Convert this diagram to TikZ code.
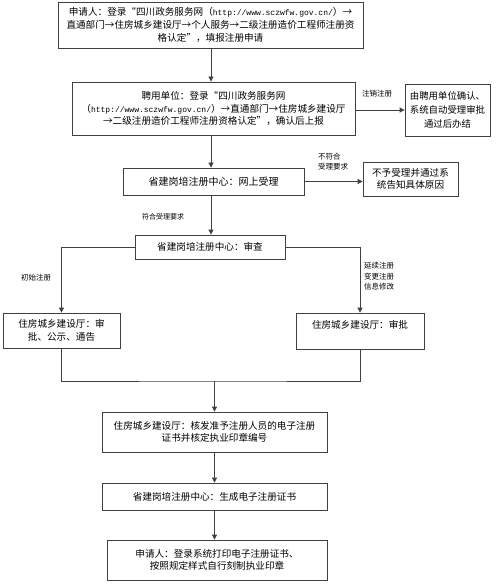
\documentclass[tikz,border=0pt]{standalone}
\usepackage{fontspec}
\setmainfont{Noto Sans CJK SC}
\newfontfamily\urlfont{Liberation Mono}
\usetikzlibrary{arrows.meta}
\newcommand\myurl[1]{{\urlfont\fontsize{8}{13}\selectfont #1}}
\begin{document}
\begin{tikzpicture}[x=1pt,y=-1pt,
  box/.style={draw=black!75, line width=0.8pt, align=center, inner sep=0pt,
    font=\fontsize{9.6}{13}\selectfont},
  lbl/.style={font=\fontsize{7.5}{10.5}\selectfont, inner sep=0pt, align=left},
  arr/.style={draw=black!75, line width=0.8pt, -{Triangle[length=5pt,width=5pt]}},
  ln/.style={draw=black!75, line width=0.8pt}]
\useasboundingbox (0,0) rectangle (500,585);
\coordinate (sp) at (211,0);
\coordinate (mrg) at (214.5,381);

\node[box, minimum width=305pt, minimum height=46pt] (b1) at (210.5,25)
  {申请人：登录“四川政务服务网（\myurl{http://www.sczwfw.gov.cn/}）→\\
   直通部门→住房城乡建设厅→个人服务→二级注册造价工程师注册资\\
   格认定”，填报注册申请};
\node[box, minimum width=283pt, minimum height=53pt, font=\fontsize{9.6}{12.5}\selectfont] (b2) at (213.5,108.5)
  {聘用单位：登录“四川政务服务网\\
   （\myurl{http://www.sczwfw.gov.cn/}）→直通部门→住房城乡建设厅\\
   →二级注册造价工程师注册资格认定”，确认后上报};
\node[box, minimum width=85pt, minimum height=52pt, font=\fontsize{9.4}{14}\selectfont] (b3) at (447.5,110)
  {由聘用单位确认、\\系统自动受理审批\\通过后办结};
\node[box, minimum width=181pt, minimum height=27pt, font=\fontsize{10}{13}\selectfont] (b4) at (213.5,181.5)
  {省建岗培注册中心：网上受理};
\node[box, minimum width=95pt, minimum height=34pt, font=\fontsize{9.6}{12}\selectfont] (b5) at (410.5,179)
  {不予受理并通过系\\统告知具体原因};
\node[box, minimum width=150pt, minimum height=24pt] (b6) at (210,247)
  {省建岗培注册中心：审查};
\node[box, minimum width=117pt, minimum height=35pt] (b7) at (61.5,330.5)
  {住房城乡建设厅：审\\批、公示、通告};
\node[box, minimum width=128pt, minimum height=36pt] (b8) at (360,331)
  {住房城乡建设厅：审批\\~};
\node[box, minimum width=225pt, minimum height=40pt, font=\fontsize{9.6}{12}\selectfont] (b9) at (214.5,432)
  {住房城乡建设厅：核发准予注册人员的电子注册\\证书并核定执业印章编号};
\node[box, minimum width=225pt, minimum height=27pt] (b10) at (214.5,496.5)
  {省建岗培注册中心：生成电子注册证书};
\node[box, minimum width=220pt, minimum height=40pt, font=\fontsize{9.6}{12}\selectfont] (b11) at (217,560)
  {申请人：登录系统打印电子注册证书、\\按照规定样式自行刻制执业印章};

% labels
\node[lbl] (l1) at (377,94) {注销注册};
\node[lbl, anchor=west] (l2) at (318,161.5) {不符合\\受理要求};
\node[lbl, font=\fontsize{7}{9}\selectfont] (l3) at (163,217) {符合受理要求};
\node[lbl] (l4) at (36,278) {初始注册};
\node[lbl, anchor=west] (l5) at (364,276.5) {延续注册\\变更注册\\信息修改};

% connectors
\draw[arr] (sp |- b1.south) -- (sp |- b2.north);
\draw[arr] (b3.west -| b2.east) -- (b3.west);
\draw[arr] (sp |- b2.south) -- (sp |- b4.north);
\draw[arr] (b4.east) -- (b4.east -| b5.west);
\draw[arr] (sp |- b4.south) -- (sp |- b6.north);
\draw[arr] (b6.west) -| (b7.north);
\draw[arr] (b6.east) -| (b8.north);
\draw[ln] (b7.south) |- (mrg) -| (b8.south);
\draw[arr] (mrg) -- (mrg |- b9.north);
\draw[arr] (b9.south) -- (b10.north);
\draw[arr] (b10.south) -- (b10.south |- b11.north);
\end{tikzpicture}
\end{document}
